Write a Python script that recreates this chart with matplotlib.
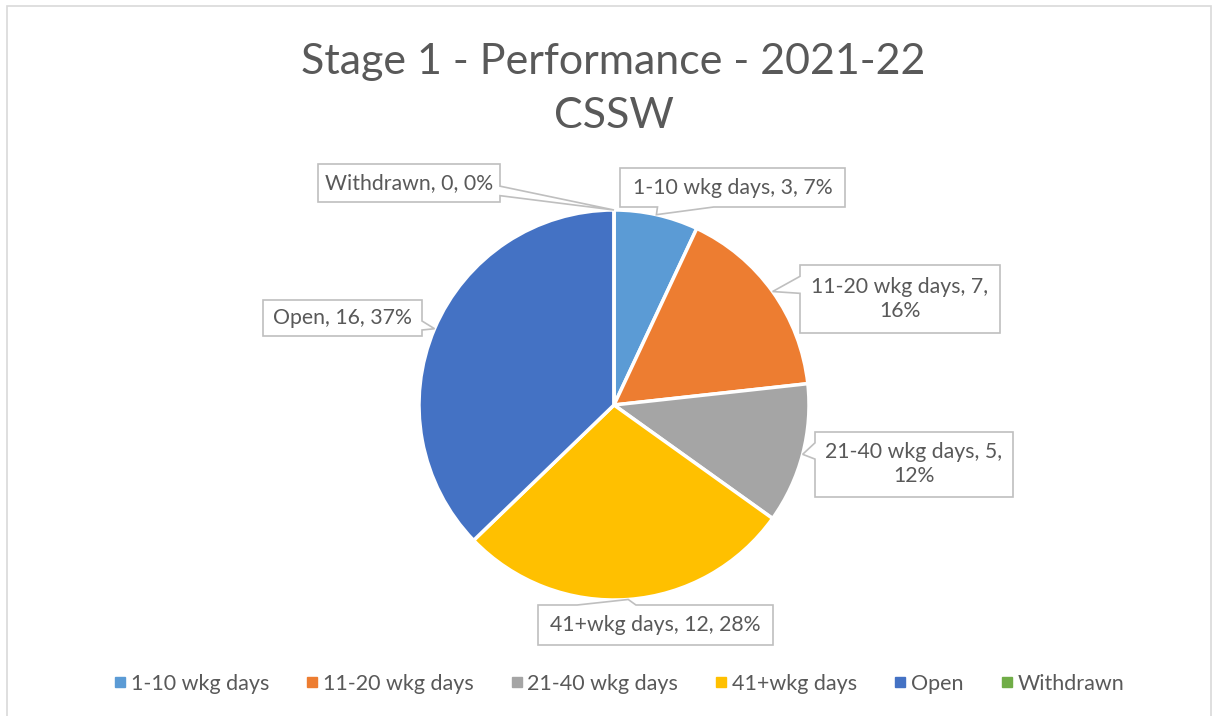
import matplotlib
matplotlib.use("Agg")
import matplotlib.pyplot as plt
from matplotlib.patches import Polygon, Rectangle
from matplotlib.lines import Line2D
import numpy as np

# --- data ---
categories = ["1-10 wkg days", "11-20 wkg days", "21-40 wkg days", "41+wkg days", "Open", "Withdrawn"]
counts = [3, 7, 5, 12, 16, 0]
colors = ["#5B9BD5", "#ED7D31", "#A5A5A5", "#FFC000", "#4472C4", "#70AD47"]
title = "Stage 1 - Performance - 2021-22\nCSSW"

# --- layout (pixel coords, y down) ---
W, H = 1217, 716
CX, CY, R = 614, 405, 195
# callout boxes: x0, y0, x1, y1, and whether to wrap the percentage onto a new line
boxes = {
    "1-10 wkg days": ((620, 168, 845, 207), False),
    "11-20 wkg days": ((800, 265, 1000, 333), True),
    "21-40 wkg days": ((815, 432, 1013, 497), True),
    "41+wkg days": ((538, 605, 773, 645), False),
    "Open": ((263, 300, 422, 336), False),
    "Withdrawn": ((318, 164, 500, 202), False),
}
TXT = "#595959"
FONT = "Lato"

plt.rcParams["font.family"] = [FONT, "DejaVu Sans"]

fig = plt.figure(figsize=(W / 100, H / 100), dpi=100)
ax = fig.add_axes([0, 0, 1, 1])

ax.pie(counts, colors=colors, startangle=90, counterclock=False,
       center=(CX, H - CY), radius=R, frame=True,
       wedgeprops=dict(edgecolor="white", linewidth=2.5))
ax.set_xlim(0, W)
ax.set_ylim(0, H)
ax.set_aspect("equal")
ax.axis("off")


def callout_points(x0, y0, x1, y1, tx, ty):
    # wedgeRectCallout shape, y down
    w, h = x1 - x0, y1 - y0
    hc, vc = (x0 + x1) / 2, (y0 + y1) / 2
    dx, dy = (tx - hc) / w, (ty - vc) / h
    if abs(dx) > abs(dy):
        g1, g2 = (7, 10) if ty > vc else (2, 5)
        ya, yb = y0 + h * g1 / 12, y0 + h * g2 / 12
        if dx < 0:
            pts = [(x0, y0), (x1, y0), (x1, y1), (x0, y1), (x0, yb), (tx, ty), (x0, ya)]
        else:
            pts = [(x0, y0), (x1, y0), (x1, ya), (tx, ty), (x1, yb), (x1, y1), (x0, y1)]
    else:
        g1, g2 = (7, 10) if tx > hc else (2, 5)
        xa, xb = x0 + w * g1 / 12, x0 + w * g2 / 12
        if dy < 0:
            pts = [(x0, y0), (xa, y0), (tx, ty), (xb, y0), (x1, y0), (x1, y1), (x0, y1)]
        else:
            pts = [(x0, y0), (x1, y0), (x1, y1), (xb, y1), (tx, ty), (xa, y1), (x0, y1)]
    return [(x, H - y) for x, y in pts]


total = sum(counts)
cum = np.cumsum([0] + counts)
for i, cat in enumerate(categories):
    mid = np.deg2rad((cum[i] + cum[i + 1]) / 2 / total * 360)
    tx = CX + R * np.sin(mid)
    ty = CY - R * np.cos(mid)
    (x0, y0, x1, y1), wrap = boxes[cat]
    poly = Polygon(callout_points(x0, y0, x1, y1, tx, ty), closed=True,
                   facecolor="white", edgecolor="#BFBFBF", linewidth=1.2, zorder=5)
    ax.add_patch(poly)
    pct = round(counts[i] / total * 100)
    sep = "\n" if wrap else " "
    label = f"{cat}, {counts[i]},{sep}{pct}%"
    ax.text((x0 + x1) / 2, H - (y0 + y1) / 2, label, ha="center", va="center",
            multialignment="center", fontsize=15.3, color=TXT, zorder=6,
            linespacing=1.25)

# title
ax.text(W / 2 + 5, H - 89, title, ha="center", va="center", fontsize=31,
        color=TXT, linespacing=1.5)

# chart border
ax.add_patch(Rectangle((7, -10), 1204, H - 6 + 10, fill=False,
                       edgecolor="#D9D9D9", linewidth=1.2))

handles = [Line2D([], [], marker="s", linestyle="none", markersize=7,
                  markerfacecolor=c, markeredgecolor=c) for c in colors]
fig.legend(handles, categories, loc="center", bbox_to_anchor=(0.508, 1 - 684 / H),
           ncol=6, frameon=False, fontsize=15.5, handletextpad=0.15,
           columnspacing=1.65, labelcolor=TXT, handlelength=0.7)

fig.savefig("out.png", dpi=100)
